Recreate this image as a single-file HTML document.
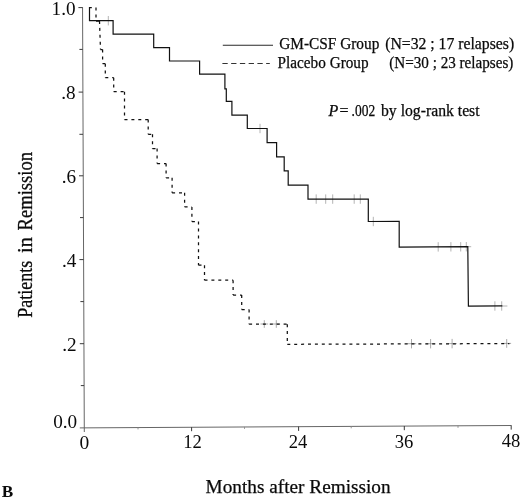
<!DOCTYPE html>
<html>
<head>
<meta charset="utf-8">
<title>Kaplan-Meier remission curves</title>
<style>
  html, body { margin: 0; padding: 0; background: #ffffff; }
  body { width: 520px; height: 498px; overflow: hidden; font-family: "Liberation Serif", serif; }
  svg { display: block; filter: grayscale(1); }
  text { font-family: "Liberation Serif", serif; fill: #0a0a0a; }
</style>
</head>
<body>
<svg width="520" height="498" viewBox="0 0 520 498">
  <rect x="0" y="0" width="520" height="498" fill="#ffffff"/>

  <!-- axes -->
  <g stroke="#666666" stroke-width="1" fill="none" stroke-linecap="butt">
    <line x1="82.55" y1="7.2" x2="84.3" y2="432"/>
    <line x1="79.8" y1="427.9" x2="511.4" y2="425.5"/>
  </g>
  <g stroke="#3a3a3a" stroke-width="1" fill="none" stroke-linecap="butt">
    <!-- y major ticks -->
    <line x1="78.4" y1="7.6" x2="82.6" y2="7.6"/>
    <line x1="78.6" y1="92.1" x2="82.9" y2="92.1"/>
    <line x1="79" y1="175.8" x2="83.2" y2="175.8"/>
    <line x1="79.4" y1="259.6" x2="83.6" y2="259.6"/>
    <line x1="79.8" y1="343.7" x2="84" y2="343.7"/>
    <!-- y minor ticks -->
    <line x1="79.4" y1="49.4" x2="82.7" y2="49.4"/>
    <line x1="79.4" y1="134.3" x2="83" y2="134.3"/>
    <line x1="80" y1="217.6" x2="83.4" y2="217.6"/>
    <line x1="80.4" y1="301.6" x2="83.8" y2="301.6"/>
    <line x1="80.8" y1="385.6" x2="84.1" y2="385.6"/>
    <!-- x major ticks -->
    <line x1="191.6" y1="427.2" x2="191.6" y2="431.2"/>
    <line x1="298.6" y1="426.6" x2="298.6" y2="430.9"/>
    <line x1="404.3" y1="426" x2="404.3" y2="430.2"/>
    <line x1="511.2" y1="425.4" x2="511.2" y2="429.6"/>
  </g>
  <g stroke="#8a8a8a" stroke-width="0.9" fill="none">
    <!-- x minor ticks -->
    <line x1="138" y1="427.4" x2="138" y2="429.4"/>
    <line x1="244.5" y1="426.9" x2="244.5" y2="428.9"/>
    <line x1="351.2" y1="426.3" x2="351.2" y2="428.3"/>
    <line x1="458" y1="425.7" x2="458" y2="427.8"/>
  </g>

  <!-- censor ticks -->
  <g stroke="#858585" stroke-width="0.62" fill="none">
    <line x1="108.3" y1="16" x2="108.3" y2="25.4"/>
    <line x1="260" y1="123.8" x2="260" y2="133.2"/>
    <line x1="316.2" y1="194.4" x2="316.2" y2="203.8"/>
    <line x1="325.7" y1="194.4" x2="325.7" y2="203.8"/>
    <line x1="332.7" y1="194.4" x2="332.7" y2="203.8"/>
    <line x1="354.2" y1="194.4" x2="354.2" y2="203.8"/>
    <line x1="360.3" y1="194.4" x2="360.3" y2="203.8"/>
    <line x1="373.3" y1="216.8" x2="373.3" y2="226.2"/>
    <line x1="438.2" y1="242.2" x2="438.2" y2="251.6"/>
    <line x1="450.9" y1="242.1" x2="450.9" y2="251.5"/>
    <line x1="460.7" y1="242.1" x2="460.7" y2="251.5"/>
    <line x1="466.3" y1="242" x2="466.3" y2="251.4"/>
    <line x1="494.9" y1="301.3" x2="494.9" y2="310.7"/>
    <line x1="501.7" y1="301.3" x2="501.7" y2="310.7"/>
    <path stroke="#777" d="M264.3 320.2V327.8M260.5 324H268.1"/>
    <path stroke="#777" d="M276.3 320.2V327.8M272.5 324H280.1"/>
    <path stroke="#777" d="M411.5 339V348.4M406.8 343.7H416.2"/>
    <path stroke="#777" d="M430.6 339V348.4M425.9 343.7H435.3"/>
    <path stroke="#777" d="M452.1 338.9V348.3M447.4 343.6H456.8"/>
    <path stroke="#777" d="M506.7 339V347.8M502.3 343.4H511.1"/>
    <line x1="466.3" y1="246.7" x2="471.2" y2="246.7"/>
    <line x1="502" y1="306" x2="507.4" y2="306"/>
  </g>

  <!-- GM-CSF (solid) curve -->
  <path fill="none" stroke="#111111" stroke-width="1.2" stroke-linejoin="miter" stroke-linecap="butt"
    d="M91.8 7.6 L89.5 7.6 L89.5 20.7 L113.1 20.7 L113.1 34.1 L153.7 34.1 L153.7 47.6 L169.5 47.6 L169.5 61 L199.6 61 L199.6 74.2 L224.9 74.2 L224.9 88.8 L226.3 88.8 L226.3 101.3 L231.9 101.3 L231.9 115.2 L247.3 115.2 L247.3 128.5 L267.1 128.5 L267.1 142.6 L276.6 142.6 L276.6 156.8 L284.2 156.8 L284.2 170.9 L288.2 170.9 L288.2 185.2 L308 185.2 L308 199.1 L368.3 199 L368.3 221.5 L399.2 221.4 L399.2 247.1 L467.8 246.7 L468.4 306.1 L502.3 305.9"/>

  <!-- Placebo (dotted) curve -->
  <path fill="none" stroke="#111111" stroke-width="1.25" stroke-dasharray="3 3.9" stroke-linecap="butt"
    d="M96 7.6L96 21 M96 21L99.5 21 M99.5 21L100.5 49.6 M100.5 49.6L102.6 49.6 M102.6 49.6L102.6 63.7 M102.6 63.7L105.3 63.7 M105.3 63.7L105.3 77.7 M105.3 77.7L113.7 77.7 M113.7 77.7L113.7 91.7 M113.7 91.7L124.5 91.7 M124.5 91.7L124.5 119.6 M124.5 119.6L148.2 119.6 M148.2 119.6L148.2 134.3 M148.2 134.3L152.5 134.3 M152.5 134.3L152.5 148.6 M152.5 148.6L157.1 148.6 M157.1 148.6L157.1 163.5 M157.1 163.5L166.1 163.5 M166.1 163.5L166.1 177.8 M166.1 177.8L172.1 177.8 M172.1 177.8L172.1 192.8 M172.1 192.8L184.6 192.8 M184.6 192.8L184.6 206.9 M184.6 206.9L191.9 206.9 M191.9 206.9L191.9 221.6 M191.9 221.6L198.5 221.6 M198.5 221.6L198.5 265.2 M198.5 265.2L204.5 265.2 M204.5 265.2L204.5 280.2 M204.5 280.2L233.1 280.2 M233.1 280.2L233.1 295 M233.1 295L241.7 295 M241.7 295L241.7 309.6 M241.7 309.6L249.1 309.6 M249.1 309.6L249.1 324.2 M249.1 324.2L287.3 324.2 M287.3 324.2L287.3 344.3 M287.3 344.3L509.4 343.6"/>

  <!-- legend -->
  <line x1="222.8" y1="45.25" x2="273" y2="45.25" stroke="#2a2a2a" stroke-width="1.1"/>
  <line x1="222.4" y1="63.5" x2="269.8" y2="63.5" stroke="#333333" stroke-width="1.05" stroke-dasharray="5.3 3.45"/>
  <g font-size="16" stroke="#0a0a0a" stroke-width="0.25">
  <text x="279.3" y="49.2" textLength="100" lengthAdjust="spacingAndGlyphs">GM-CSF Group</text>
  <text x="385.2" y="49.2" textLength="129" lengthAdjust="spacingAndGlyphs">(N=32 ; 17 relapses)</text>
  <text x="277.6" y="67.7" textLength="91" lengthAdjust="spacingAndGlyphs">Placebo Group</text>
  <text x="389.2" y="67.7" textLength="124.2" lengthAdjust="spacingAndGlyphs">(N=30 ; 23 relapses)</text>
  <text x="328.4" y="116.1" font-style="italic">P</text>
  <text x="339.6" y="116.1">=</text>
  <text x="351.6" y="116.1" textLength="23.6" lengthAdjust="spacingAndGlyphs">.002</text>
  <text x="381" y="116.1" textLength="98.6" lengthAdjust="spacingAndGlyphs">by log-rank test</text>
  </g>

  <!-- y tick labels -->
  <g font-size="19.2" text-anchor="end">
    <text x="75.6" y="14.9">1.0</text>
    <text x="75.6" y="99.4">.8</text>
    <text x="76.2" y="183.3">.6</text>
    <text x="76.4" y="267.1">.4</text>
    <text x="76.6" y="351.1">.2</text>
    <text x="77.2" y="427.9">0.0</text>
  </g>
  <!-- x tick labels -->
  <g font-size="19.5" text-anchor="middle">
    <text x="84.4" y="449.2">0</text>
    <text x="192.6" y="448" textLength="18.6" lengthAdjust="spacingAndGlyphs">12</text>
    <text x="298" y="448.2" textLength="18.6" lengthAdjust="spacingAndGlyphs">24</text>
    <text x="404" y="447.6" textLength="18.6" lengthAdjust="spacingAndGlyphs">36</text>
    <text x="511" y="447.2" textLength="18.6" lengthAdjust="spacingAndGlyphs">48</text>
  </g>

  <!-- axis titles -->
  <text x="205.6" y="492.9" font-size="19.8" stroke="#0a0a0a" stroke-width="0.25" textLength="185" lengthAdjust="spacingAndGlyphs">Months after Remission</text>
  <g font-size="21.5" stroke="#0a0a0a" stroke-width="0.3">
  <text transform="translate(32.0 317.7) rotate(-90)" textLength="57" lengthAdjust="spacingAndGlyphs">Patients</text>
  <text transform="translate(32.0 252.9) rotate(-90)" textLength="15.7" lengthAdjust="spacingAndGlyphs">in</text>
  <text transform="translate(32.0 230.4) rotate(-90)" textLength="78.4" lengthAdjust="spacingAndGlyphs">Remission</text>
  </g>
  <text x="1.8" y="497" font-size="17.2" font-weight="bold">B</text>
</svg>
</body>
</html>
